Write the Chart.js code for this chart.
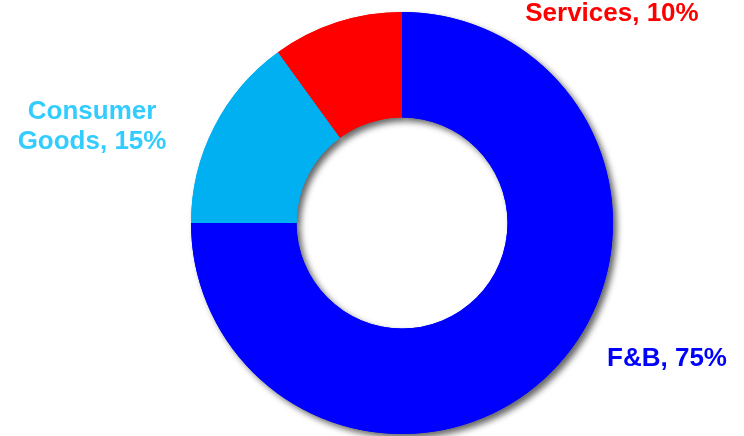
<!DOCTYPE html>
<html>
<head>
<meta charset="utf-8">
<script src="https://cdn.jsdelivr.net/npm/chart.js@4.4.1/dist/chart.umd.min.js"></script>
<style>
  html, body { margin: 0; padding: 0; background: #fff; }
  #wrap { width: 744px; height: 436px; }
</style>
</head>
<body>
<div id="wrap"><canvas id="pieChart" width="744" height="436"></canvas></div>
<script>
const categories = ['F&B', 'Consumer Goods', 'Services'];
const shares = [75, 15, 10];
const sliceColors = ['#0000FF', '#00B0F0', '#FF0000'];
const labelColors = ['#0000FF', '#33CCFF', '#FF0000'];
// label lines per slice
const labelLines = [['F&B, 75%'], ['Consumer', 'Goods, 15%'], ['Services, 10%']];
// label anchor relative to centre, in units of outer radius
const labelPos = [[1.256, 0.645], [-1.469, -0.458], [0.995, -0.99]];

// drop shadow under the ring, drawn before the slices so seams stay clean
const ringShadow = {
  id: 'ringShadow',
  beforeDatasetsDraw(chart) {
    const ctx = chart.ctx;
    ctx.save();
    ctx.shadowColor = 'rgba(0,0,0,0.6)';
    ctx.shadowOffsetX = 4;
    ctx.shadowOffsetY = 4;
    ctx.shadowBlur = 6;
    chart.getDatasetMeta(0).data.forEach(arc => arc.draw(ctx));
    ctx.restore();
  }
};

const sliceLabels = {
  id: 'sliceLabels',
  afterDatasetsDraw(chart) {
    const ctx = chart.ctx;
    const arc = chart.getDatasetMeta(0).data[0];
    const r = arc.outerRadius;
    ctx.save();
    ctx.font = 'bold 26px "Liberation Sans", Arial, sans-serif';
    ctx.textAlign = 'center';
    ctx.textBaseline = 'middle';
    labelLines.forEach((lines, i) => {
      const x = arc.x + labelPos[i][0] * r;
      const y = arc.y + labelPos[i][1] * r;
      ctx.fillStyle = labelColors[i];
      const lh = 30;
      lines.forEach((t, j) => {
        ctx.fillText(t, x, y + (j - (lines.length - 1) / 2) * lh);
      });
    });
    ctx.restore();
  }
};

new Chart(document.getElementById('pieChart'), {
  type: 'doughnut',
  data: {
    labels: categories,
    datasets: [{
      data: shares,
      backgroundColor: sliceColors,
      borderWidth: 0
    }]
  },
  options: {
    responsive: false,
    animation: false,
    cutout: '50%',
    layout: { padding: { left: 60, right: 0, top: 12, bottom: 2 } },
    events: [],
    plugins: {
      legend: { display: false },
      tooltip: { enabled: false }
    }
  },
  plugins: [ringShadow, sliceLabels]
});
</script>
</body>
</html>
